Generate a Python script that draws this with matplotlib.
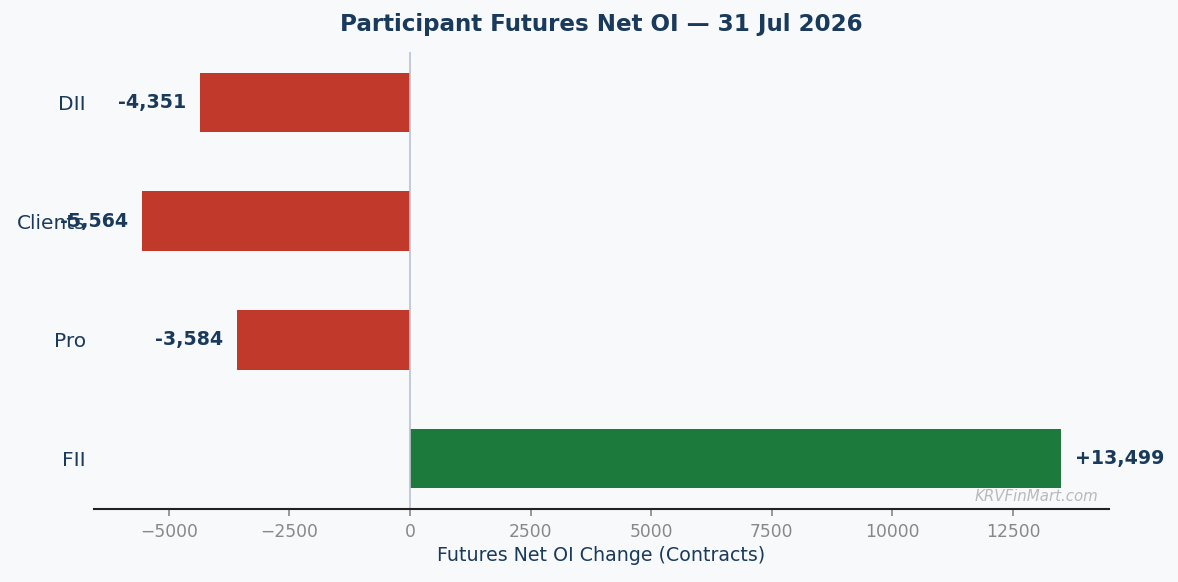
import matplotlib
matplotlib.use('Agg')
import matplotlib.pyplot as plt

# participant futures net OI change
participants = ['FII', 'Pro', 'Clients', 'DII']
net_oi = [13499, -3584, -5564, -4351]

navy = '#1a3a5c'
bg = '#f8f9fb'

fig = plt.figure(figsize=(11.78, 5.82), dpi=100, facecolor=bg)
ax = fig.add_axes([0.0798, 0.1254, 0.8616, 0.7853], facecolor=bg)

colors = ['#1c7b3c' if v >= 0 else '#c0392b' for v in net_oi]
ax.barh(participants, net_oi, height=0.5, color=colors)
ax.axvline(0, color='#b8c2d0', linewidth=1.2)
ax.set_xlim(-6550, 14490)

# value labels next to each bar
off = 280
for i, v in enumerate(net_oi):
    txt = '{:+,}'.format(v) if v > 0 else '{:,}'.format(v)
    if v >= 0:
        ax.text(v + off, i, txt, ha='left', va='center', fontsize=13.7,
                fontweight='bold', color=navy)
    else:
        ax.text(v - off, i, txt, ha='right', va='center', fontsize=13.7,
                fontweight='bold', color=navy)

for s in ['top', 'right', 'left']:
    ax.spines[s].set_visible(False)
ax.spines['bottom'].set_color('#222222')
ax.spines['bottom'].set_linewidth(1.5)

ax.tick_params(axis='y', length=0, pad=6, labelsize=14.5, labelcolor=navy)
ax.tick_params(axis='x', colors='#888888', labelsize=12.3, length=5,
               width=1.2, pad=5)

ax.set_title('Participant Futures Net OI — 31 Jul 2026', fontsize=16.6,
             fontweight='bold', color=navy, pad=15)
ax.set_xlabel('Futures Net OI Change (Contracts)', fontsize=13.7,
              color=navy, labelpad=3.5)

ax.text(0.99, 0.01, 'KRVFinMart.com', transform=ax.transAxes, ha='right',
        va='bottom', fontsize=10.8, style='italic', color='#aaaaaa', alpha=0.8)

fig.savefig('out.png', dpi=100, facecolor=bg)
